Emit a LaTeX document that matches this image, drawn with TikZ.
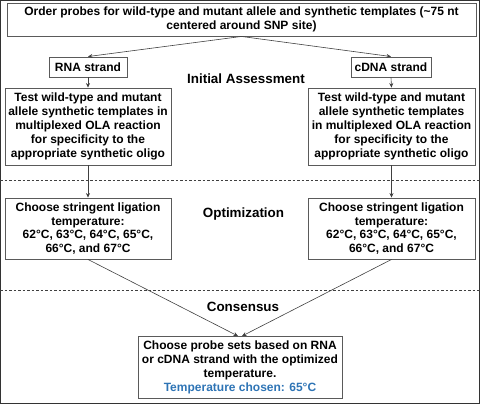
\documentclass[tikz,border=0pt]{standalone}
\usepackage{fontspec}
\setmainfont{Liberation Sans}
\usetikzlibrary{arrows.meta}
\definecolor{boxline}{HTML}{5A5A5A}
\definecolor{arrline}{HTML}{404040}
\definecolor{blueT}{HTML}{2E74B5}
\tikzset{
  box/.style={draw=boxline, line width=0.9pt, align=center, inner sep=0pt,
    font=\bfseries\fontsize{12}{13.8}\selectfont, text=black},
  stagelabel/.style={font=\bfseries\fontsize{13.4}{15}\selectfont, inner sep=0pt},
  conn/.style={draw=arrline, line width=0.6pt, -{Stealth[length=4.5pt,width=4pt]}},
  divider/.style={draw=arrline, line width=0.6pt, dash pattern=on 2.5pt off 2pt}
}
\begin{document}
\begin{tikzpicture}[x=1pt,y=-1pt]
\useasboundingbox (0,0) rectangle (480,405);
\draw[draw=black!80, line width=1.4pt] (0.7,0) rectangle (479.3,403.5);

\node[box, minimum width=469pt, minimum height=33pt] (top) at (241.5,19.5)
  {Order probes for wild-type and mutant allele and synthetic templates (\textasciitilde75 nt\\centered around SNP site)};
\node[box, minimum width=78pt, minimum height=20pt] (rna) at (88,67) {RNA strand};
\node[box, minimum width=80pt, minimum height=20pt] (cdna) at (391,67) {cDNA strand};
\node[box, minimum width=166pt, minimum height=77pt] (testl) at (88,126.5)
  {Test wild-type and mutant\\allele synthetic templates in\\multiplexed OLA reaction\\for specificity to the\\appropriate synthetic oligo};
\node[box, minimum width=167pt, minimum height=77pt] (testr) at (391.5,126.5)
  {Test wild-type and mutant\\allele synthetic templates\\in multiplexed OLA reaction\\for specificity to the\\appropriate synthetic oligo};
\node[box, minimum width=166pt, minimum height=61pt] (chl) at (88,228.5)
  {Choose stringent ligation\\temperature:\\62°C, 63°C, 64°C, 65°C,\\66°C, and 67°C};
\node[box, minimum width=167pt, minimum height=61pt] (chr) at (391.5,228.5)
  {Choose stringent ligation\\temperature:\\62°C, 63°C, 64°C, 65°C,\\66°C, and 67°C};
\node[box, minimum width=204pt, minimum height=62pt] (fin) at (240,367.5)
  {Choose probe sets based on RNA\\or cDNA strand with the optimized\\temperature.\\\textcolor{blueT}{Temperature chosen: 65°C}};

\node[stagelabel] (l1) at (246,79) {Initial Assessment};
\node[stagelabel] (l2) at (243.5,214) {Optimization};
\node[stagelabel] (l3) at (243,307) {Consensus};

\coordinate (d1a) at (0,180); \coordinate (d1b) at (480,180);
\coordinate (d2a) at (0,290); \coordinate (d2b) at (480,290);
\draw[divider] (d1a) -- (d1b);
\draw[divider] (d2a) -- (d2b);

\draw[conn] (top.south) -- (rna.north);
\draw[conn] (top.south) -- (cdna.north);
\draw[conn] (rna.south) -- (testl.north);
\draw[conn] (cdna.south) -- (testr.north);
\draw[conn] (testl.south) -- (chl.north);
\draw[conn] (testr.south) -- (chr.north);
\draw[conn] (chl.south) -- ([xshift=-2pt]fin.north);
\draw[conn] (chr.south) -- ([xshift=2pt]fin.north);
\end{tikzpicture}
\end{document}
